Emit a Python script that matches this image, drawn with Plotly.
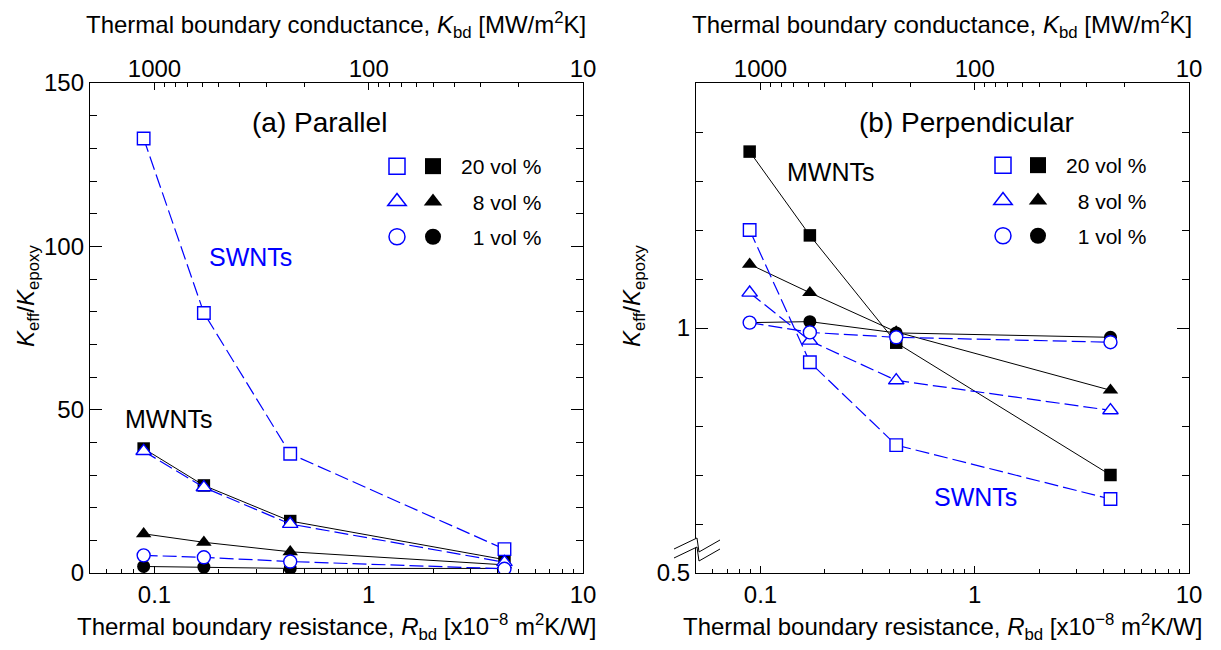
import math
import plotly.graph_objects as go

W, H = 1221, 650
FONT = "Liberation Sans, Arial, Helvetica, sans-serif"
BLUE = "#0000ff"

# Thermal boundary resistance R_bd [x1e-8 m^2K/W]
r_bd = [0.089, 0.17, 0.43, 4.3]

# (a) Parallel: K_eff / K_epoxy
par_mwnt_20 = [38.1, 26.8, 15.9, 4.1]
par_mwnt_8 = [12.0, 9.4, 6.5, 2.5]
par_mwnt_1 = [2.0, 1.8, 1.4, 1.4]
par_swnt_20 = [133.0, 79.6, 36.5, 7.3]
par_swnt_8 = [37.3, 26.2, 15.0, 3.3]
par_swnt_1 = [5.4, 4.8, 3.5, 1.3]

# (b) Perpendicular: K_eff / K_epoxy
perp_mwnt_20 = [1.360, 1.189, 0.970, 0.700]
perp_mwnt_8 = [1.130, 1.072, 0.992, 0.873]
perp_mwnt_1 = [1.011, 1.013, 0.990, 0.981]
perp_swnt_20 = [1.200, 0.930, 0.761, 0.651]
perp_swnt_8 = [1.072, 0.974, 0.893, 0.832]
perp_swnt_1 = [1.011, 0.991, 0.981, 0.971]

vol_labels = ["20 vol %", "\u20078 vol %", "\u20071 vol %"]
symbols = ["square", "triangle-up", "circle"]
marker_sizes = [12.5, 13.5, 13]

# Axis ticks
r_major = [0.1, 1, 10]
r_major_text = ["0.1", "1", "10"]
r_minor = [m * d for d in (0.01, 0.1, 1) for m in range(2, 10) if 0.05 <= m * d <= 10]
k_major = [1000, 100, 10]
k_minor = [m * d for d in (10, 100) for m in range(2, 10)]


def r_of_k(k):
    # conductance [MW/m^2K] -> resistance [x1e-8 m^2K/W]
    return 100.0 / k


def px(x, y):
    return x / W, 1 - y / H


x_range = [math.log10(0.05), 1.0]
dom_a = [90 / W, 583 / W]
dom_b = [696 / W, 1189 / W]
dom_y = [1 - 573 / H, 1 - 83 / H]

fig = go.Figure()

panels = [
    ("x", "y", [par_mwnt_20, par_mwnt_8, par_mwnt_1], [par_swnt_20, par_swnt_8, par_swnt_1]),
    ("x2", "y2", [perp_mwnt_20, perp_mwnt_8, perp_mwnt_1], [perp_swnt_20, perp_swnt_8, perp_swnt_1]),
]

for xa, ya, mwnt, swnt in panels:
    for i in range(3):
        fig.add_trace(go.Scatter(
            x=r_bd, y=mwnt[i], mode="lines+markers", xaxis=xa, yaxis=ya,
            line=dict(color="black", width=1),
            marker=dict(symbol=symbols[i], size=marker_sizes[i], color="black", line=dict(width=0)),
            showlegend=False, hoverinfo="x+y"))
    for i in range(3):
        fig.add_trace(go.Scatter(
            x=r_bd, y=swnt[i], mode="lines+markers", xaxis=xa, yaxis=ya,
            line=dict(color=BLUE, width=1.2, dash="14px,5px"),
            marker=dict(symbol=symbols[i], size=marker_sizes[i], color="white",
                        line=dict(color=BLUE, width=1.4)),
            showlegend=False, hoverinfo="x+y"))

# Legend keys (no data): open (SWNT) and filled (MWNT) symbols per volume fraction,
# attached to the top conductance axes so those axes get drawn
for xa, ya, leg_open, leg_fill in [("x3", "y", "legend", "legend2"), ("x4", "y2", "legend3", "legend4")]:
    for i in range(3):
        fig.add_trace(go.Scatter(
            x=[None], y=[None], mode="markers", xaxis=xa, yaxis=ya,
            marker=dict(symbol=symbols[i], size=16, color="white", line=dict(color=BLUE, width=1.5)),
            name=" ", legend=leg_open, legendgroup=f"{leg_open}_{i}", showlegend=True))
        fig.add_trace(go.Scatter(
            x=[None], y=[None], mode="markers", xaxis=xa, yaxis=ya,
            marker=dict(symbol=symbols[i], size=16, color="black", line=dict(width=0)),
            name=vol_labels[i], legend=leg_fill, legendgroup=f"{leg_fill}_{i}", showlegend=True))

tickfont = dict(size=24, color="black", family=FONT)
base = dict(showline=True, linecolor="black", linewidth=1.3, showgrid=False, zeroline=False,
            automargin=False, ticks="inside", tickcolor="black", tickwidth=1.2, tickfont=tickfont)


def x_bottom(domain, anchor):
    return dict(base, type="log", domain=domain, anchor=anchor, range=x_range, mirror=True,
                tickmode="array", tickvals=r_major, ticktext=r_major_text, ticklen=7,
                minor=dict(tickmode="array", tickvals=r_minor, ticks="inside", ticklen=4,
                           tickcolor="black", tickwidth=1, showgrid=False))


def x_top(over, anchor):
    return dict(base, type="log", overlaying=over, anchor=anchor, side="top", range=x_range,
                showline=False, tickmode="array", tickvals=[r_of_k(k) for k in k_major],
                ticktext=[str(k) for k in k_major], ticklen=7,
                minor=dict(tickmode="array", tickvals=[r_of_k(k) for k in k_minor], ticks="inside",
                           ticklen=4, tickcolor="black", tickwidth=1, showgrid=False))


fig.update_layout(
    template="none",
    width=W, height=H,
    margin=dict(l=0, r=0, t=0, b=0, autoexpand=False),
    paper_bgcolor="white", plot_bgcolor="white",
    font=dict(family=FONT, color="black"),
    xaxis=x_bottom(dom_a, "y"),
    xaxis2=x_bottom(dom_b, "y2"),
    xaxis3=x_top("x", "y"),
    xaxis4=x_top("x2", "y2"),
    yaxis=dict(base, domain=dom_y, anchor="x", range=[0, 150], mirror="ticks",
               tickmode="array", tickvals=[0, 50, 100, 150], ticklen=12,
               minor=dict(tick0=0, dtick=10, ticks="inside", ticklen=7, tickcolor="black",
                          tickwidth=1, showgrid=False)),
    yaxis2=dict(base, domain=dom_y, anchor="x2", range=[0.5, 1.5], mirror="ticks",
                tickmode="array", tickvals=[0.5, 1.0], ticktext=["0.5", "1"], ticklen=12,
                minor=dict(tick0=0.5, dtick=0.1, ticks="inside", ticklen=7, tickcolor="black",
                           tickwidth=1, showgrid=False)),
)

leg_common = dict(bgcolor="rgba(0,0,0,0)", borderwidth=0, xanchor="left", yanchor="top",
                  font=dict(size=21, color="black", family=FONT), tracegroupgap=5,
                  itemclick=False, itemdoubleclick=False)
fig.update_layout(
    legend=dict(leg_common, x=377 / W, y=1 - 146 / H, itemwidth=30),
    legend2=dict(leg_common, x=405 / W, y=1 - 146 / H, itemwidth=46),
    legend3=dict(leg_common, x=983 / W, y=1 - 145 / H, itemwidth=30),
    legend4=dict(leg_common, x=1010 / W, y=1 - 145 / H, itemwidth=46),
)


def label(text, x, y, size, color="black", angle=0):
    xp, yp = px(x, y)
    fig.add_annotation(text=text, x=xp, y=yp, xref="paper", yref="paper", showarrow=False,
                       xanchor="center", yanchor="middle", textangle=angle,
                       font=dict(size=size, color=color, family=FONT))


x_title = "Thermal boundary resistance, <i>R</i><sub>bd</sub> [x10<sup>\u22128</sup> m<sup>2</sup>K/W]"
top_title = "Thermal boundary conductance, <i>K</i><sub>bd</sub> [MW/m<sup>2</sup>K]"
y_title = "<i>K</i><sub>eff</sub>/<i>K</i><sub>epoxy</sub>"

for cx in (336, 942):
    label(x_title, cx, 627, 24)
    label(top_title, cx, 25, 24)
label(y_title, 27, 296, 24, angle=-90)
label(y_title, 633, 296, 24, angle=-90)

label("(a) Parallel", 319, 123, 28)
label("SWNTs", 250, 257, 25, BLUE)
label("MWNTs", 168, 419, 25)
label("(b) Perpendicular", 967, 122, 28)
label("MWNTs", 830, 172, 25)
label("SWNTs", 976, 497, 25, BLUE)

# Axis break on the perpendicular panel's y axis
upper = [(674, 549), (697, 538), (699, 552), (720, 540)]
lower = [(x, y + 9) for x, y in upper]


def path_of(points, close=False):
    pts = [px(x, y) for x, y in points]
    s = "M " + " L ".join(f"{a:.5f},{b:.5f}" for a, b in pts)
    return s + (" Z" if close else "")


fig.add_shape(type="path", xref="paper", yref="paper", layer="above",
              path=path_of(upper + lower[::-1], close=True), fillcolor="white", line=dict(width=0))
for pts in (upper, lower):
    fig.add_shape(type="path", xref="paper", yref="paper", layer="above",
                  path=path_of(pts), line=dict(color="black", width=1))

fig.write_html("out.html")
